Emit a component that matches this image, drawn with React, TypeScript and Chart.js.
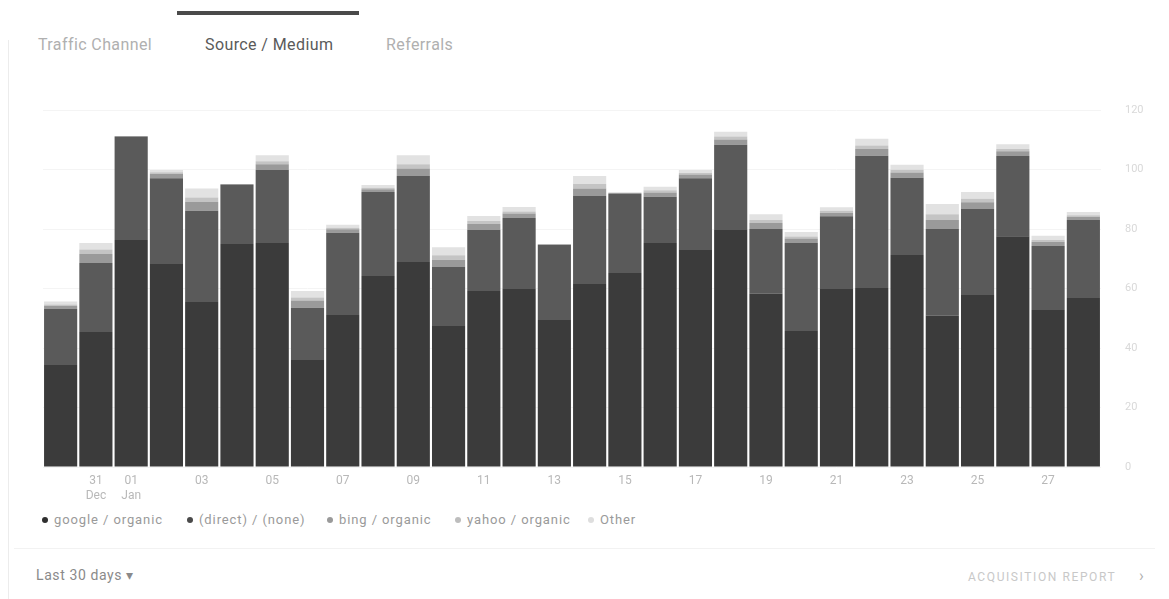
import React, { useEffect, useRef } from "react";
import { Chart, registerables } from "chart.js";

Chart.register(...registerables);

const categories = [
  "30 Dec", "31 Dec", "01 Jan", "02 Jan", "03 Jan", "04 Jan", "05 Jan", "06 Jan", "07 Jan", "08 Jan",
  "09 Jan", "10 Jan", "11 Jan", "12 Jan", "13 Jan", "14 Jan", "15 Jan", "16 Jan", "17 Jan", "18 Jan",
  "19 Jan", "20 Jan", "21 Jan", "22 Jan", "23 Jan", "24 Jan", "25 Jan", "26 Jan", "27 Jan", "28 Jan",
];

const xTickLabels: (string | string[])[] = [
  "", ["31", "Dec"], ["01", "Jan"], "", "03", "", "05", "", "07", "",
  "09", "", "11", "", "13", "", "15", "", "17", "",
  "19", "", "21", "", "23", "", "25", "", "27", "",
];

const googleOrganic = [34.3, 45.4, 76.3, 68.2, 55.5, 75, 75.3, 36, 51.1, 64.2, 68.9, 47.4, 59.2, 59.8, 49.4, 61.5, 65.2, 75.3, 72.9, 79.7, 58.2, 45.7, 59.8, 60.2, 71.3, 50.8, 57.8, 77.6, 52.8, 56.8];
const directNone = [18.8, 23.2, 34.6, 28.9, 30.6, 19.8, 24.5, 17.5, 27.6, 28.2, 28.9, 19.8, 20.5, 23.9, 25.2, 29.6, 26.6, 15.5, 24.2, 28.6, 21.8, 29.6, 24.5, 44.4, 25.9, 29.2, 28.9, 26.9, 21.5, 26.2];
const bingOrganic = [1, 3, 0.4, 1.5, 3, 0.3, 2, 2.5, 1.2, 1, 2.5, 2.5, 2, 1.5, 0.3, 2.5, 0.4, 1.5, 1.2, 1.8, 2, 1.5, 1.2, 2.3, 1.8, 3, 2.3, 1.6, 1.4, 1.1];
const yahooOrganic = [0.5, 1.5, 0, 0.5, 1.5, 0, 1, 1, 0.5, 0.5, 1.5, 1.5, 1, 0.7, 0, 1.5, 0, 0.7, 0.5, 1, 1, 0.7, 0.6, 1.2, 0.9, 2, 1.2, 0.8, 0.6, 0.5];
const otherSources = [1, 2.2, 0, 0.7, 3, 0, 2, 2.2, 1, 0.9, 3, 2.7, 1.7, 1.5, 0, 2.7, 0, 1.2, 1, 1.6, 2, 1.5, 1.2, 2.2, 1.7, 3.4, 2.2, 1.6, 1.4, 1.1];

const seriesNames = ["google / organic", "(direct) / (none)", "bing / organic", "yahoo / organic", "Other"];
const seriesColors = ["#3b3b3b", "#5a5a5a", "#9a9a9a", "#c4c4c4", "#e2e2e2"];
const legendDotColors = ["#2e2e2e", "#4a4a4a", "#9a9a9a", "#bdbdbd", "#dedede"];

const tabs = ["Traffic Channel", "Source / Medium", "Referrals"];

export default function App() {
  const canvasRef = useRef<HTMLCanvasElement | null>(null);

  useEffect(() => {
    if (!canvasRef.current) return;
    const values = [googleOrganic, directNone, bingOrganic, yahooOrganic, otherSources];
    const chart = new Chart(canvasRef.current, {
      type: "bar",
      data: {
        labels: categories,
        datasets: values.map((v, i) => ({
          label: seriesNames[i],
          data: v,
          backgroundColor: seriesColors[i],
          borderWidth: 0,
          categoryPercentage: 1,
          barPercentage: 0.94,
        })),
      },
      options: {
        animation: false,
        responsive: false,
        maintainAspectRatio: false,
        layout: { padding: { left: 43, top: 110, right: 0, bottom: 0 } },
        plugins: { legend: { display: false }, tooltip: { enabled: false } },
        scales: {
          x: {
            stacked: true,
            grid: { display: false, drawTicks: false },
            border: { display: false },
            afterFit: (s: any) => { s.height = 43; },
            ticks: {
              autoSkip: false,
              maxRotation: 0,
              padding: 7,
              color: "#b8b8b8",
              font: { family: "Roboto", size: 12 },
              callback: (_v: any, i: number) => xTickLabels[i],
            },
          },
          y: {
            stacked: true,
            position: "right",
            min: 0,
            max: 120,
            afterFit: (s: any) => { s.width = 68; },
            grid: { color: "#f4f4f4", drawTicks: false },
            border: { display: false },
            ticks: {
              stepSize: 20,
              padding: 24,
              color: "#d9d9d9",
              font: { family: "Roboto", size: 11 },
            },
          },
        },
      },
    });
    return () => chart.destroy();
  }, []);

  return (
    <div style={{ position: "absolute", left: 0, top: 0, width: 1169, height: 599, background: "#fff", fontFamily: "Roboto, sans-serif", overflow: "hidden" }}>
      <div style={{ position: "absolute", left: 8, top: 40, width: 1, height: 559, background: "#ececec" }} />
      <div style={{ position: "absolute", left: 177, top: 11, width: 182, height: 4, background: "#4a4a4a" }} />
      {tabs.map((t, i) => (
        <div
          key={t}
          style={{
            position: "absolute",
            top: 35,
            left: [38, 205, 386][i],
            fontSize: 16,
            letterSpacing: 0.4,
            color: i === 1 ? "#5a5a5a" : "#b0b0b0",
            whiteSpace: "nowrap",
          }}
        >
          {t}
        </div>
      ))}
      <canvas ref={canvasRef} width={1169} height={510} style={{ position: "absolute", left: 0, top: 0, width: 1169, height: 510 }} />
      {seriesNames.map((n, i) => (
        <div
          key={n}
          style={{
            position: "absolute",
            top: 512,
            left: [42, 187, 327, 455, 588][i],
            fontSize: 13,
            letterSpacing: 0.9,
            color: "#9a9a9a",
            whiteSpace: "nowrap",
            display: "flex",
            alignItems: "center",
          }}
        >
          <span style={{ display: "inline-block", width: 6, height: 6, borderRadius: 3, background: legendDotColors[i], marginRight: 6 }} />
          {n}
        </div>
      ))}
      <div style={{ position: "absolute", left: 14, right: 14, top: 548, height: 1, background: "#f2f2f2" }} />
      <div style={{ position: "absolute", left: 36, top: 567, fontSize: 14, letterSpacing: 0.6, color: "#8a8a8a" }}>Last 30 days ▾</div>
      <div style={{ position: "absolute", left: 968, top: 570, fontSize: 12, color: "#c8c8c8", letterSpacing: 1.6 }}>ACQUISITION REPORT</div>
      <div style={{ position: "absolute", left: 1139, top: 566, fontSize: 16, color: "#b0b0b0" }}>›</div>
    </div>
  );
}
